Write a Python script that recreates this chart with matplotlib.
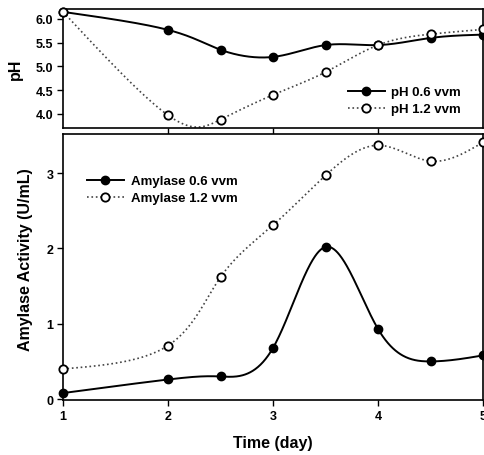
import numpy as np
import matplotlib
matplotlib.use("Agg")
import matplotlib.pyplot as plt

plt.rcParams['font.family'] = ['Liberation Sans', 'DejaVu Sans']
plt.rcParams['font.weight'] = 'bold'

days = [1, 2, 2.5, 3, 3.5, 4, 4.5, 5]
ph_06 = [6.15, 5.77, 5.35, 5.20, 5.45, 5.45, 5.60, 5.67]
ph_12 = [6.15, 3.97, 3.88, 4.40, 4.88, 5.45, 5.68, 5.78]
amy_06 = [0.08, 0.26, 0.30, 0.68, 2.02, 0.93, 0.50, 0.58]
amy_12 = [0.40, 0.71, 1.62, 2.31, 2.97, 3.37, 3.16, 3.41]


def natural_spline_1d(t, y, ts):
    t = np.asarray(t, float)
    y = np.asarray(y, float)
    m = len(t)
    h = np.diff(t)
    A = np.zeros((m, m))
    b = np.zeros(m)
    A[0, 0] = 1
    A[-1, -1] = 1
    for i in range(1, m - 1):
        A[i, i - 1] = h[i - 1]
        A[i, i] = 2 * (h[i - 1] + h[i])
        A[i, i + 1] = h[i]
        b[i] = 6 * ((y[i + 1] - y[i]) / h[i] - (y[i] - y[i - 1]) / h[i - 1])
    M = np.linalg.solve(A, b)
    idx = np.clip(np.searchsorted(t, ts) - 1, 0, m - 2)
    x0, x1 = t[idx], t[idx + 1]
    hh = x1 - x0
    t0 = x1 - ts
    t1 = ts - x0
    return (M[idx] * t0 ** 3 / (6 * hh) + M[idx + 1] * t1 ** 3 / (6 * hh)
            + (y[idx] / hh - M[idx] * hh / 6) * t0
            + (y[idx + 1] / hh - M[idx + 1] * hh / 6) * t1)


def smooth_curve(ax, x, y, n=600):
    # parametric spline (uniform parameter) computed in display space
    pts = ax.transData.transform(np.column_stack([x, y]))
    t = np.arange(len(x), dtype=float)
    ts = np.linspace(0, t[-1], n)
    px = natural_spline_1d(t, pts[:, 0], ts)
    py = natural_spline_1d(t, pts[:, 1], ts)
    data = ax.transData.inverted().transform(np.column_stack([px, py]))
    return data[:, 0], data[:, 1]


fig = plt.figure(figsize=(4.85, 4.56), dpi=100)
ax1 = fig.add_axes([0.130, 0.717, 0.866, 0.261])
ax2 = fig.add_axes([0.130, 0.121, 0.866, 0.583])
ax1.set_xlim(1, 5)
ax1.set_ylim(3.70, 6.21)
ax2.set_xlim(1, 5)
ax2.set_ylim(-0.01, 3.52)

MS = 6


def draw(ax, y, filled, label):
    xs, ys = smooth_curve(ax, days, y)
    if filled:
        ax.plot(xs, ys, '-', color='black', lw=1.4)
        ax.plot(days, y, 'o', color='black', ms=MS, clip_on=False, zorder=5)
        h, = ax.plot([], [], '-o', color='black', lw=1.4, ms=MS, label=label)
    else:
        ax.plot(xs, ys, ':', color='#444444', lw=1.2)
        ax.plot(days, y, 'o', mfc='white', mec='black', mew=1.3, ms=MS,
                clip_on=False, zorder=5)
        h, = ax.plot([], [], ':o', color='#444444', lw=1.2, mfc='white',
                     mec='black', mew=1.3, ms=MS, label=label)
    return h


h1 = draw(ax1, ph_06, True, 'pH 0.6 vvm')
h2 = draw(ax1, ph_12, False, 'pH 1.2 vvm')
ax1.set_xlim(1, 5)
ax1.set_ylim(3.70, 6.21)
ax1.set_yticks([4.0, 4.5, 5.0, 5.5, 6.0])
ax1.set_xticks([2, 3, 4])
ax1.set_xticklabels([])
ax1.set_ylabel('pH', fontsize=11.5, fontweight='bold')
ax1.legend(handles=[h1, h2], loc='lower right', bbox_to_anchor=(0.97, 0.03),
           frameon=False, fontsize=9.5, handlelength=2.8, borderpad=0.2,
           labelspacing=0.35, handletextpad=0.5)

h3 = draw(ax2, amy_06, True, 'Amylase 0.6 vvm')
h4 = draw(ax2, amy_12, False, 'Amylase 1.2 vvm')
ax2.set_xlim(1, 5)
ax2.set_ylim(-0.01, 3.52)
ax2.set_yticks([0, 1, 2, 3])
ax2.set_xticks([1, 2, 3, 4, 5])
ax2.set_xlabel('Time (day)', fontsize=11.5, fontweight='bold', labelpad=10)
ax2.set_ylabel('Amylase Activity (U/mL)', fontsize=11.5, fontweight='bold')
ax2.legend(handles=[h3, h4], loc='upper left', bbox_to_anchor=(0.035, 0.88),
           frameon=False, fontsize=9.5, handlelength=2.8, borderpad=0.2,
           labelspacing=0.35, handletextpad=0.5)

for ax in (ax1, ax2):
    for s in ax.spines.values():
        s.set_linewidth(1.2)
    ax.tick_params(direction='out', length=4, width=1.0, labelsize=9, pad=3)
ax1.yaxis.set_label_coords(-0.095, 0.5)
ax2.yaxis.set_label_coords(-0.072, 0.53)

fig.savefig('out.png', dpi=100)
